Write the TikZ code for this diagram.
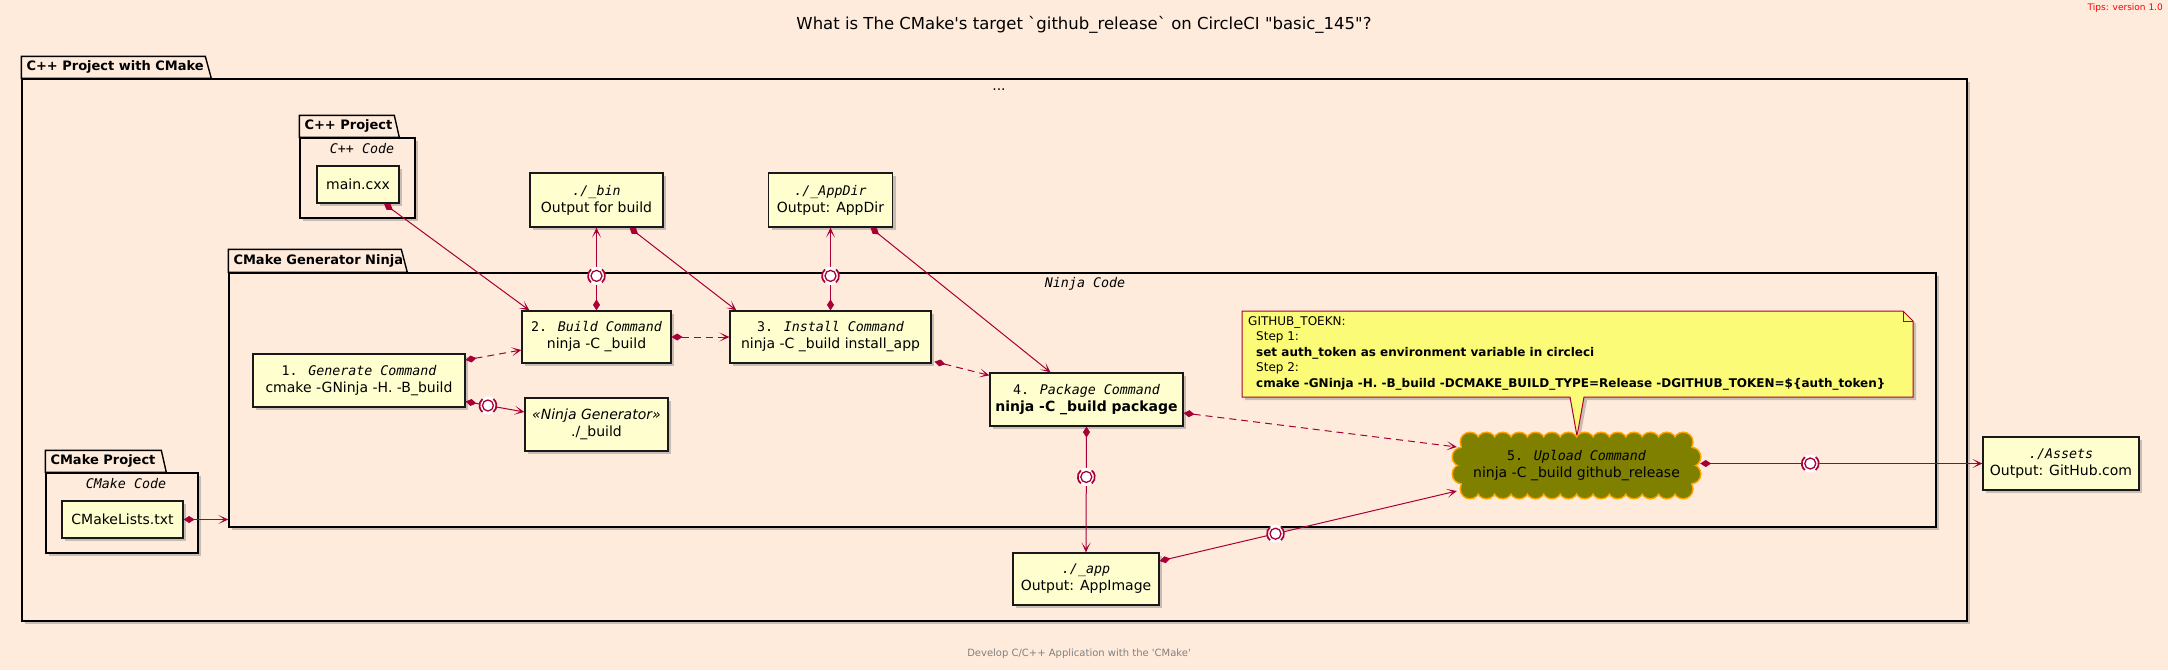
\documentclass[tikz,border=0pt]{standalone}
\usepackage{fontspec}
\setmainfont{DejaVu Sans}
\newfontfamily\monof{DejaVu Sans Mono}
\usetikzlibrary{arrows.meta,shadows,calc}
\definecolor{bgc}{HTML}{FFEBDC}
\definecolor{boxfill}{HTML}{FEFECE}
\definecolor{linkc}{HTML}{A80036}
\definecolor{notefill}{HTML}{FBFB77}
\definecolor{cloudfill}{HTML}{808000}
\definecolor{cloudline}{HTML}{FFA500}
\newcommand{\myfs}[2]{\fontsize{#1}{#2}\selectfont}
\newcommand{\cmdt}[2]{{\monof\fontsize{13.3}{17}\selectfont #1 \itshape #2}}
\newcommand{\patht}[1]{{\monof\itshape\fontsize{13.3}{17}\selectfont #1}}
\begin{document}
\begin{tikzpicture}[x=1pt,y=-1pt,
 shd/.style={drop shadow={shadow xshift=3pt,shadow yshift=-3pt,opacity=0.35,fill=black!60}},
 box/.style={draw=black!90, line width=1.2pt, fill=boxfill, shd, inner sep=0pt, align=center, font=\myfs{14}{17}},
 frame/.style={draw=black, line width=1.4pt, fill=bgc, shd, inner sep=0pt},
 tabline/.style={draw=black, line width=1.4pt, fill=bgc},
 tabtext/.style={font=\bfseries\myfs{13}{15}, inner sep=0pt, anchor=west},
 pkgsub/.style={font=\monof\itshape\myfs{13.3}{16}, inner sep=0pt},
 lnk/.style={draw=linkc, line width=1pt},
 dia/.style={{Diamond[length=11pt,width=7pt]}-{Stealth[length=10pt,width=9pt,inset=6pt]}},
 dsh/.style={dash pattern=on 7pt off 5pt},
 lolli/.pic={
  \fill[white] (0,0) circle (9pt);
  \draw[linkc, line width=1.3pt, fill=white] (0,0) circle (5.5pt);
  \draw[linkc, line width=1.7pt] (130:8.5pt) arc[start angle=130,end angle=230,radius=8.5pt];
  \draw[linkc, line width=1.7pt] (-50:8.5pt) arc[start angle=-50,end angle=50,radius=8.5pt];
 }
]
\fill[bgc] (0,0) rectangle (2168,670);
\useasboundingbox (0,0) rectangle (2168,670);

% outer package
\node[frame, minimum width=1945pt, minimum height=542pt] (outer) at (994.5,350) {};
\draw[tabline] (outer.north west) -- ++(0,-22) -- ++(184,0) -- ++(6,22) -- cycle;
\node[tabtext] (outertab) at ([xshift=5pt,yshift=11pt]outer.north west) {C++ Project with CMake};
\node[font=\myfs{14}{17}, inner sep=0pt] (dots) at (999,90) {...};

% C++ project package
\node[frame, minimum width=115pt, minimum height=80pt] (cpp) at (357.5,178) {};
\draw[tabline] (cpp.north west) -- ++(0,-22) -- ++(95,0) -- ++(5,22) -- cycle;
\node[tabtext] (cpptab) at ([xshift=5pt,yshift=11pt]cpp.north west) {C++ Project};
\node[pkgsub] (cppsub) at (362,149) {C++ Code};

% CMake project package
\node[frame, minimum width=152pt, minimum height=80pt] (cmk) at (122,513) {};
\draw[tabline] (cmk.north west) -- ++(0,-22) -- ++(116,0) -- ++(5,22) -- cycle;
\node[tabtext] (cmktab) at ([xshift=5pt,yshift=11pt]cmk.north west) {CMake Project};
\node[pkgsub] (cmksub) at (126,484) {CMake Code};

% Ninja package
\node[frame, minimum width=1707pt, minimum height=254pt] (ninja) at (1082.5,400) {};
\draw[tabline] (ninja.north west) -- ++(0,-23) -- ++(173,0) -- ++(6,23) -- cycle;
\node[tabtext] (ninjatab) at ([xshift=5pt,yshift=11.5pt]ninja.north west) {CMake Generator Ninja};
\node[pkgsub] (ninjasub) at (1085,284) {Ninja Code};

% boxes
\node[box, minimum width=82pt, minimum height=37pt] (mainc) at (358,184.5) {main.cxx};
\node[box, minimum width=133pt, minimum height=54pt] (bin) at (596.5,200) {\patht{./\_bin}\\Output for build};
\node[box, minimum width=124pt, minimum height=54pt] (appdir) at (830.5,200) {\patht{./\_AppDir}\\Output: AppDir};
\node[box, minimum width=149pt, minimum height=52pt] (build) at (596.5,337) {\cmdt{2.}{Build Command}\\ninja -C \_build};
\node[box, minimum width=201pt, minimum height=52pt] (install) at (830.5,337) {\cmdt{3.}{Install Command}\\ninja -C \_build install\_app};
\node[box, minimum width=212pt, minimum height=53pt] (gen) at (359,380.5) {\cmdt{1.}{Generate Command}\\cmake -GNinja -H. -B\_build};
\node[box, minimum width=143pt, minimum height=53pt] (ninjagen) at (596.5,424.5) {{\itshape «Ninja Generator»}\\./\_build};
\node[box, minimum width=193pt, minimum height=53pt] (pkgcmd) at (1086.5,399.5) {\cmdt{4.}{Package Command}\\\textbf{ninja -C \_build package}};
\node[box, minimum width=146pt, minimum height=52pt] (app) at (1086,579) {\patht{./\_app}\\Output: AppImage};
\node[box, minimum width=156pt, minimum height=53pt] (assets) at (2061,463.5) {\patht{./Assets}\\Output: GitHub.com};
\node[box, minimum width=121pt, minimum height=37pt] (cml) at (122.5,519.5) {CMakeLists.txt};

% note
\draw[draw=linkc, line width=1pt, fill=notefill, shd] (1242,311) -- (1903,311) -- (1913,321) -- (1913,397) -- (1584,397) -- (1577,436) -- (1570,397) -- (1242,397) -- cycle;
\draw[linkc, line width=1pt] (1903,311) -- (1903,321) -- (1913,321);
\node[anchor=north west, align=left, inner sep=0pt, font=\myfs{12}{15.5}] (note) at (1248,316) {GITHUB\_TOEKN:\\
\hspace*{8pt}Step 1:\\
\hspace*{8pt}\textbf{set auth\_token as environment variable in circleci}\\
\hspace*{8pt}Step 2:\\
\hspace*{8pt}\textbf{cmake -GNinja -H. -B\_build -DCMAKE\_BUILD\_TYPE=Release -DGITHUB\_TOKEN=\$\{auth\_token\}}};

% cloud
\foreach \cx/\cy in {1462/457,1462/474,1691/457,1691/474} {
  \filldraw[fill=cloudfill, draw=cloudline, line width=3pt] (\cx,\cy) circle (9pt);
}
\foreach \i in {0,...,13} {
  \filldraw[fill=cloudfill, draw=cloudline, line width=3pt] (1470+\i*16.4,442) circle (9pt);
  \filldraw[fill=cloudfill, draw=cloudline, line width=3pt] (1470+\i*16.4,489) circle (9pt);
}
\foreach \cx/\cy in {1462/457,1462/474,1691/457,1691/474} {
  \fill[cloudfill] (\cx,\cy) circle (9pt);
}
\foreach \i in {0,...,13} {
  \fill[cloudfill] (1470+\i*16.4,442) circle (9pt);
  \fill[cloudfill] (1470+\i*16.4,489) circle (9pt);
}
\fill[cloudfill] (1462,442) rectangle (1691,489);
\node[minimum width=247pt, minimum height=65pt, inner sep=0pt, align=center, font=\myfs{14}{17}] (upload) at (1576.5,465.5) {\cmdt{5.}{Upload Command}\\ninja -C \_build github\_release};

% connectors
\draw[lnk, dia] ([xshift=26pt]mainc.south) -- ([xshift=8pt]build.north west);
\draw[lnk, dia] (build.north) -- coordinate[pos=0.417] (lp1) (bin.south);
\draw[lnk, dia] ([xshift=33pt]bin.south) -- ([xshift=7pt]install.north west);
\draw[lnk, dia] (install.north) -- coordinate[pos=0.417] (lp2) (appdir.south);
\draw[lnk, dia] ([xshift=40pt]appdir.south) -- ([xshift=-36pt]pkgcmd.north);
\draw[lnk, dia, dsh] (build.east) -- (install.west);
\draw[lnk, dia, dsh] ([xshift=3pt,yshift=2pt]install.south east) -- ([yshift=-3pt]pkgcmd.north west);
\draw[lnk, dia, dsh] ([yshift=20.5pt]gen.east) -- ([yshift=-13pt]build.west);
\draw[lnk, dia] ([yshift=-21pt]gen.east) -- coordinate[pos=0.38] (lp3) ([yshift=12.5pt]ninjagen.west);
\draw[lnk, dia] (cml.east) -- (cml.east -| ninja.west);
\draw[lnk, dia, dsh] ([yshift=-13.5pt]pkgcmd.east) -- ([xshift=4pt,yshift=18.5pt]upload.west);
\draw[lnk, dia] (pkgcmd.south) -- coordinate[pos=0.4] (lp4) (app.north);
\draw[lnk, dia] ([yshift=18pt]app.east) -- coordinate[pos=0.39] (lp5) ([xshift=4pt,yshift=-25.5pt]upload.west);
\draw[lnk, dia] ([yshift=2pt]upload.east) -- coordinate[pos=0.39] (lp6) (assets.west);
\foreach \p in {lp1,lp2,lp3,lp4,lp5,lp6} { \pic at (\p) {lolli}; }

% title, tips, footer
\node[font=\myfs{16.5}{19}, inner sep=0pt] (title) at (1084,25) {What is The CMake\textquotesingle s target \textasciigrave github\_release\textasciigrave{} on CircleCI \textquotedbl basic\_145\textquotedbl?};
\node[anchor=north east, font=\myfs{9}{11}, text=red, inner sep=0pt] (tips) at (2163,3) {Tips: version 1.0};
\node[font=\myfs{10}{12}, text=black!50, inner sep=0pt] (footer) at (1079,654) {Develop C/C++ Application with the \textquotesingle CMake\textquotesingle};
\end{tikzpicture}
\end{document}
